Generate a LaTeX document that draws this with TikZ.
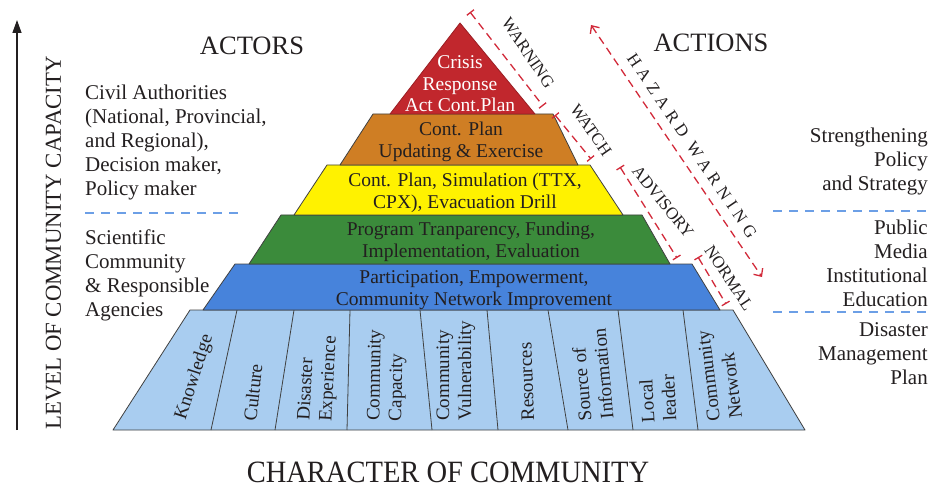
\documentclass[tikz,border=0pt]{standalone}
\usepackage{fontspec}
\setmainfont{Liberation Serif}
\newfontfamily\hazfont[LetterSpace=31]{Liberation Serif}
\usetikzlibrary{arrows.meta}
\definecolor{cred}{HTML}{C1272D}
\definecolor{corange}{HTML}{CF7E24}
\definecolor{cyellow}{HTML}{FFF200}
\definecolor{cgreen}{HTML}{3B8B3B}
\definecolor{cblue}{HTML}{4783DB}
\definecolor{cbase}{HTML}{A9CDF0}
\definecolor{txt}{HTML}{231F20}
\definecolor{alertred}{HTML}{D22A3A}
\definecolor{bluedash}{HTML}{6C9FE6}
\newcommand{\fsz}[2]{\fontsize{#1}{#2}\selectfont}
\begin{document}
\begin{tikzpicture}[x=1pt,y=-1pt,
  layer/.style={draw=black!75, line width=0.8pt, line join=round},
  divider/.style={draw=black!75, line width=0.8pt},
  lbl/.style={inner sep=0pt, text=txt, align=center, font=\fsz{19.5}{21.5}},
  side/.style={inner sep=0pt, text=txt, font=\fsz{21}{24}},
  colt/.style={inner sep=0pt, text=txt, align=left, anchor=west, font=\fsz{19}{22}},
  title/.style={inner sep=0pt, text=txt, font=\fsz{26.5}{28}},
  alertseg/.style={draw=alertred, line width=1.3pt, dash pattern=on 8pt off 5pt,
     arrows={Bar[width=9pt,line width=1.3pt]-Bar[width=9pt,line width=1.3pt]}},
  hazard/.style={draw=alertred, line width=1.3pt, dash pattern=on 8pt off 5pt,
     arrows={Straight Barb[length=6pt,width=11pt,line width=1.3pt]-Straight Barb[length=6pt,width=11pt,line width=1.3pt]}},
  bluedashed/.style={draw=bluedash, line width=1.4pt, dash pattern=on 9pt off 7pt},
  wlbl/.style={inner sep=0pt, text=txt, font=\fsz{17}{17}}
]
\path[use as bounding box] (0,0) rectangle (933,486);

% ---- pyramid layers ----
\filldraw[layer, fill=cbase] (190,310) -- (733,310) -- (805,430) -- (113,430) -- cycle;
\draw[divider] (237,310) -- (211,430);
\draw[divider] (294,310) -- (275,430);
\draw[divider] (350,310) -- (347,430);
\draw[divider] (420,310) -- (432,430);
\draw[divider] (487,310) -- (498,430);
\draw[divider] (548,310) -- (568,430);
\draw[divider] (618,310) -- (633,430);
\draw[divider] (683,310) -- (698,430);
\filldraw[layer, fill=cblue] (235,264) -- (692,264) -- (720,310) -- (203,310) -- cycle;
\filldraw[layer, fill=cgreen] (281,215) -- (642,215) -- (670,264) -- (249,264) -- cycle;
\filldraw[layer, fill=cyellow] (327,165) -- (590,165) -- (623,215) -- (294,215) -- cycle;
\filldraw[layer, fill=corange] (373,114) -- (553,114) -- (578,165) -- (340,165) -- cycle;
\filldraw[layer, draw=cred!80!black, fill=cred] (460,23) -- (535,114) -- (390,114) -- cycle;

% ---- layer texts ----
\node[lbl, text=white] (tred) at (460,84) {Crisis\\Response\\Act Cont.Plan};
\node[lbl] (torange) at (461,142) {Cont. Plan\\Updating \& Exercise};
\node[lbl] (tyellow) at (465,193) {Cont. Plan, Simulation (TTX,\\CPX), Evacuation Drill};
\node[lbl] (tgreen) at (471,242) {Program Tranparency, Funding,\\Implementation, Evaluation};
\node[lbl] (tblue) at (474,290) {Participation, Empowerment,\\Community Network Improvement};

% ---- base column texts ----
\node[colt, rotate=72] (k1) at (181,419) {Knowledge};
\node[colt, rotate=84] (k2) at (250,421) {Culture};
\node[colt, rotate=87] (k3) at (316,421) {Disaster\\Experience};
\node[colt, rotate=89] (k4) at (386,421) {Community\\Capacity};
\node[colt, rotate=90] (k5) at (456,421) {Community\\Vulnerability};
\node[colt, rotate=92] (k6) at (528,421) {Resources};
\node[colt, rotate=95] (k7) at (596,420) {Source of\\Information};
\node[colt, rotate=93] (k8) at (659,422) {Local\\leader};
\node[colt, rotate=97] (k9) at (725,420) {Community\\Network};

% ---- titles ----
\node[title] (actors) at (252,46) {ACTORS};
\node[title] (actions) at (711,43) {ACTIONS};
\node[inner sep=0pt, text=txt, font=\fsz{31}{33}, xscale=0.92] (character) at (448,472.5) {CHARACTER OF COMMUNITY};
\node[inner sep=0pt, text=txt, font=\fsz{22.8}{24}, rotate=90] (level) at (53.5,243) {LEVEL OF COMMUNITY CAPACITY};
\coordinate (ab) at (17,430);
\coordinate (at) at (17,20);
\draw[line width=1.3pt, draw=txt, -{Triangle[length=13pt,width=9pt]}] (ab) -- (at);

% ---- left texts ----
\node[side, anchor=north west, align=left] (civil) at (85,85)
  {Civil Authorities\\(National, Provincial,\\and Regional),\\Decision maker,\\Policy maker};
\node[side, anchor=north west, align=left] (sci) at (85,230)
  {Scientific\\Community\\\& Responsible\\Agencies};
\coordinate (l1a) at (85,213); \coordinate (l1b) at (238,213);
\draw[bluedashed] (l1a) -- (l1b);

% ---- right texts ----
\node[side, anchor=north east, align=right] (strength) at (928,128)
  {Strengthening\\Policy\\and Strategy};
\node[side, anchor=north east, align=right] (public) at (928,220)
  {Public\\Media\\Institutional\\Education};
\node[side, anchor=north east, align=right] (dmp) at (928,322)
  {Disaster\\Management\\Plan};
\coordinate (r1a) at (773,211); \coordinate (r1b) at (928,211);
\coordinate (r2a) at (773,312); \coordinate (r2b) at (928,312);
\draw[bluedashed] (r1a) -- (r1b);
\draw[bluedashed] (r2a) -- (r2b);

% ---- warning segments ----
\coordinate (w1) at (470,12);  \coordinate (w2) at (543,106);
\coordinate (h1) at (555,115); \coordinate (h2) at (591,159);
\coordinate (a1) at (620,167); \coordinate (a2) at (677,258);
\coordinate (n1) at (698,257); \coordinate (n2) at (726,304);
\draw[alertseg] (w1) -- (w2);
\draw[alertseg] (h1) -- (h2);
\draw[alertseg] (a1) -- (a2);
\draw[alertseg] (n1) -- (n2);
\node[wlbl, rotate=-56] (lwarn) at (528,53) {WARNING};
\node[wlbl, rotate=-55] (lwatch) at (591,130) {WATCH};
\node[wlbl, rotate=-51] (ladv) at (663,202) {ADVISORY};
\node[wlbl, rotate=-56] (lnorm) at (729,278) {NORMAL};

\coordinate (z1) at (591,25); \coordinate (z2) at (762,277);
\draw[hazard] (z1) -- (z2);
\node[wlbl, rotate=-56, font=\hazfont\fsz{17}{17}] (lhaz) at (692,146) {HAZARD WARNING};
\end{tikzpicture}
\end{document}
